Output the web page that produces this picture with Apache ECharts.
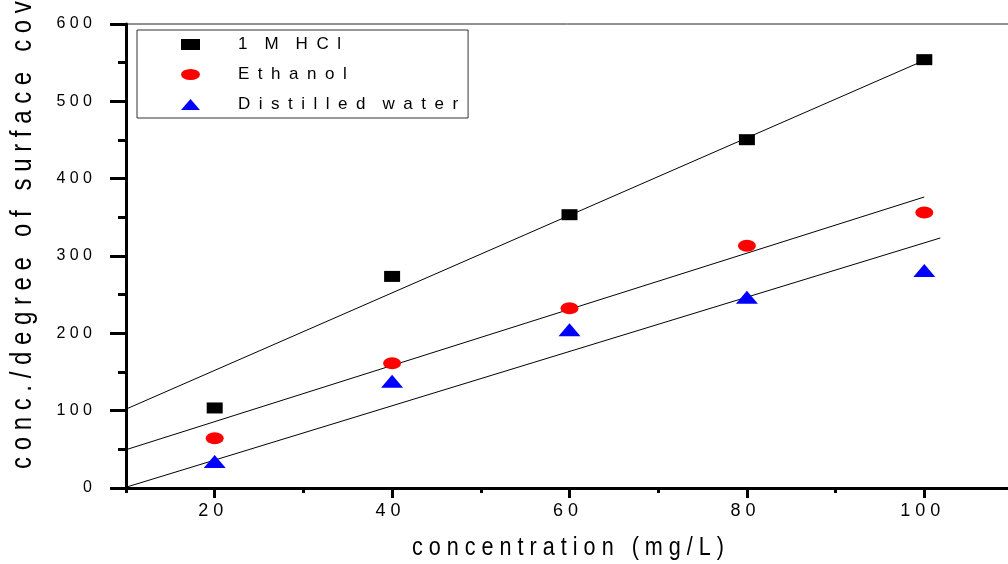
<!DOCTYPE html>
<html>
<head>
<meta charset="utf-8">
<script src="https://cdn.jsdelivr.net/npm/echarts@6/dist/echarts.min.js"></script>
<style>
  html, body { margin: 0; padding: 0; background: #fff; }
  #chart { width: 1008px; height: 564px; }
</style>
</head>
<body>
<div id="chart"></div>
<script>
// concentration (mg/L)
const concentrations = [20, 40, 60, 80, 100]
// measured points
const hclValues = [103.5, 273.6, 353.4, 450.4, 553.9]
const ethanolValues = [64.2, 161.2, 232.3, 313.3, 356.4]
const waterValues = [34.4, 137.9, 204.7, 246.5, 281.4]
// fitted lines, [x, y] end points
const hclFit = [[10, 102], [100, 553]]
const ethanolFit = [[10, 49.5], [100, 376.3]]
const waterFit = [[10, 1], [101.8, 323.3]]
// ticks
const xMajorTicks = [20, 40, 60, 80, 100]
const xMinorTicks = [10, 30, 50, 70, 90, 110]
const seriesNames = ['1 M HCl', 'Ethanol', 'Distilled water']
const xTitle = 'concentration (mg/L)'
const yTitle = 'conc./degree of surface coverage'

const FONT = "'Liberation Sans', Arial, sans-serif"
// the original plot prints every text with wide letter spacing
const spaced = v => String(v).split('').join(' ')
const wide = v => String(v).split(' ').map(w => w.split('').join('\u2002')).join('\u2003')
const pairs = vals => concentrations.map((c, i) => [c, vals[i]])

const chart = echarts.init(document.getElementById('chart'))

chart.setOption({
  animation: false,
  backgroundColor: '#fff',
  grid: {
    left: 126,
    right: -5,
    top: 24,
    bottom: 76,
    outerBoundsMode: 'none',
    containLabel: false,
    show: true,
    borderColor: '#222',
    borderWidth: 1
  },
  legend: {
    orient: 'vertical',
    left: 137,
    top: 30,
    padding: [6, 10, 5, 44],
    itemGap: 13,
    itemWidth: 19,
    itemHeight: 11,
    symbolKeepAspect: false,
    borderColor: '#333',
    borderWidth: 1,
    borderRadius: 0,
    data: seriesNames,
    formatter: wide,
    textStyle: {
      fontFamily: FONT,
      fontSize: 17,
      color: '#000',
      padding: [0, 0, 0, 33]
    }
  },
  xAxis: [
    {
      type: 'value',
      min: 10,
      max: 110,
      axisLine: { onZero: false, lineStyle: { color: '#000', width: 3 } },
      axisTick: { customValues: xMajorTicks, length: 10, lineStyle: { color: '#000', width: 3 } },
      axisLabel: {
        customValues: xMajorTicks,
        margin: 14,
        padding: [0, 8, 0, 0],
        fontFamily: FONT,
        fontSize: 18,
        color: '#000',
        formatter: spaced
      },
      splitLine: { show: false }
    },
    {
      type: 'value',
      min: 10,
      max: 110,
      position: 'bottom',
      axisLine: { show: false },
      axisTick: { customValues: xMinorTicks, length: 5, lineStyle: { color: '#000', width: 3 } },
      axisLabel: { show: false },
      splitLine: { show: false }
    }
  ],
  yAxis: {
    type: 'value',
    min: 0,
    max: 600,
    interval: 100,
    axisLine: { onZero: false, lineStyle: { color: '#000', width: 3 } },
    axisTick: { length: 16, lineStyle: { color: '#000', width: 3 } },
    minorTick: { show: true, splitNumber: 2, length: 8, lineStyle: { color: '#000', width: 3 } },
    axisLabel: {
      margin: 34,
      fontFamily: FONT,
      fontSize: 16,
      color: '#000',
      formatter: spaced
    },
    splitLine: { show: false }
  },
  // axis titles: tall narrow lettering, so drawn as scaled text
  graphic: [
    {
      type: 'text',
      x: 568,
      y: 548,
      scaleX: 1.08,
      scaleY: 1.3,
      style: {
        text: spaced(xTitle),
        fontFamily: FONT,
        fontSize: 20,
        fill: '#000',
        align: 'center',
        verticalAlign: 'middle'
      }
    },
    {
      type: 'text',
      x: 23,
      y: 469,
      rotation: Math.PI / 2,
      scaleX: 1.09,
      scaleY: 1.3,
      style: {
        text: spaced(yTitle),
        fontFamily: FONT,
        fontSize: 22,
        fill: '#000',
        align: 'left',
        verticalAlign: 'middle'
      }
    }
  ],
  series: [
    {
      name: seriesNames[0],
      type: 'scatter',
      symbol: 'rect',
      symbolSize: [16, 11],
      itemStyle: { color: '#000', opacity: 1 },
      data: pairs(hclValues),
      z: 3
    },
    {
      name: seriesNames[1],
      type: 'scatter',
      symbol: 'path://M0 5A5 5 0 1 1 10 5A5 5 0 1 1 0 5Z',
      symbolKeepAspect: false,
      symbolSize: [18, 12],
      itemStyle: { color: '#ff0000', opacity: 1 },
      data: pairs(ethanolValues),
      z: 3
    },
    {
      name: seriesNames[2],
      type: 'scatter',
      symbol: 'triangle',
      symbolSize: [22, 13],
      itemStyle: { color: '#0000ff', opacity: 1 },
      data: pairs(waterValues),
      z: 3
    },
    // fitted lines
    {
      type: 'line',
      data: hclFit,
      showSymbol: false,
      lineStyle: { color: '#000', width: 1 },
      z: 2
    },
    {
      type: 'line',
      data: ethanolFit,
      showSymbol: false,
      lineStyle: { color: '#000', width: 1 },
      z: 2
    },
    {
      type: 'line',
      data: waterFit,
      showSymbol: false,
      lineStyle: { color: '#000', width: 1 },
      z: 2
    }
  ]
})
</script>
</body>
</html>
